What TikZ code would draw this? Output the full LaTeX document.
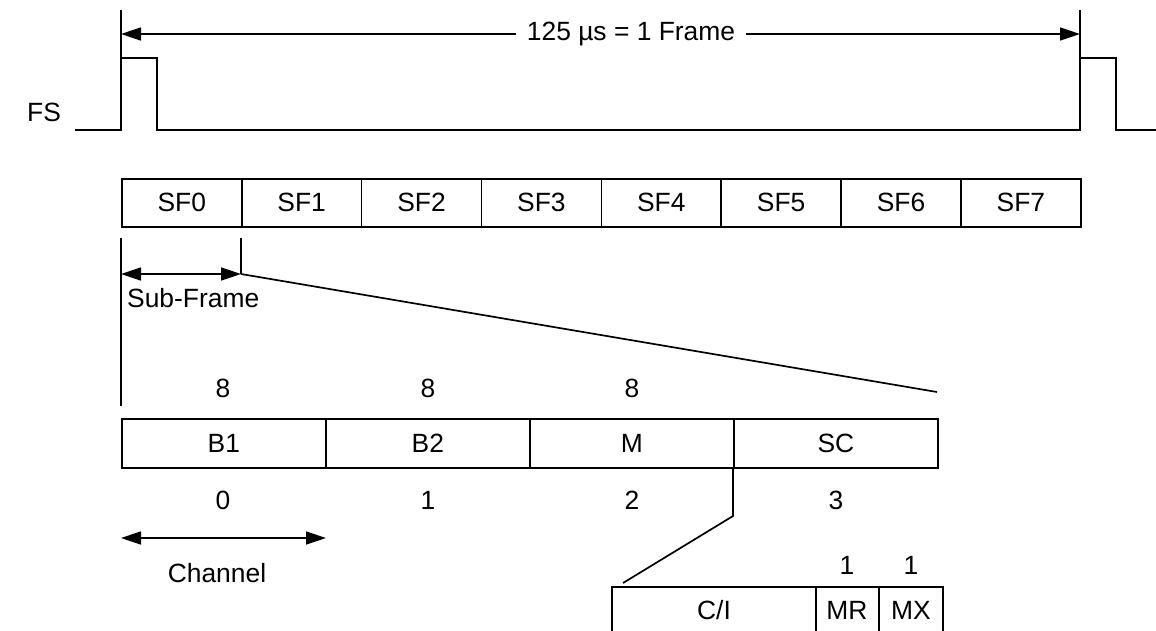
\documentclass[tikz,border=0pt]{standalone}
\usepackage{fontspec}
\setmainfont{Liberation Sans}
\usetikzlibrary{arrows.meta}
\begin{document}
\begin{tikzpicture}[x=1pt,y=-1pt,
  every node/.style={font=\fontsize{26.4}{31}\selectfont, inner sep=0pt},
  ln/.style={line width=1.7pt},
  sig/.style={line width=2.3pt},
  mk/.style={line width=1.5pt},
  fld/.style={draw, line width=1.7pt, minimum height=48pt, anchor=north west},
  tip/.style={-{Triangle[length=20pt,width=13pt]}},
  dtip/.style={{Triangle[length=20pt,width=13pt]}-{Triangle[length=20pt,width=13pt]}}]
\useasboundingbox (0,0) rectangle (1156,630);
% FS signal
\node (FS) at (44,112) {FS};
\coordinate (s0) at (75,130);
\coordinate (s1) at (121,130);
\coordinate (s2) at (121,58);
\coordinate (s3) at (157,58);
\coordinate (s4) at (157,130);
\coordinate (s5) at (1080,130);
\coordinate (s6) at (1080,58);
\coordinate (s7) at (1116,58);
\coordinate (s8) at (1116,130);
\coordinate (s9) at (1158,130);
\draw[sig] (s0) -- (s1) -- (s2) -- (s3) -- (s4) -- (s5) -- (s6) -- (s7) -- (s8) -- (s9);
% frame markers
\coordinate (mL) at (121,10);
\coordinate (mR) at (1080,10);
\draw[mk] (mL) -- (s1);
\draw[mk] (mR) -- (s5);
\coordinate (aL) at (121,34);
\coordinate (aR) at (1080,34);
\node[inner xsep=11pt] (frm) at (631,34) {125 \textmu s = 1 Frame};
\draw[ln,tip] (frm.west) -- (aL);
\draw[ln,tip] (frm.east) -- (aR);
% sub-frames
\foreach \i in {0,...,7}
  \node[fld, minimum width=119.875pt] (SF\i) at ({121+119.875*\i},178) {SF\i};
% sub-frame dimension
\coordinate (v1t) at (121,238);
\coordinate (v1b) at (121,406);
\coordinate (v2t) at (241,238);
\coordinate (sfL) at (121,274);
\coordinate (sfR) at (241,274);
\coordinate (zR) at (937,392);
\draw[mk] (v1t) -- (v1b);
\draw[mk] (v2t) -- (sfR);
\draw[ln,dtip] (sfL) -- (sfR);
\draw[ln] (sfR) -- (zR);
\node[anchor=west] (sub) at (127,298) {Sub-Frame};
% channels
\node[fld, minimum width=204pt, minimum height=49pt] (B1) at (121,418) {B1};
\node[fld, minimum width=204pt, minimum height=49pt] (B2) at (325,418) {B2};
\node[fld, minimum width=204pt, minimum height=49pt] (M) at (529,418) {M};
\node[fld, minimum width=204pt, minimum height=49pt] (SC) at (733,418) {SC};
\node (w1) at (223,388) {8};
\node (w2) at (428,388) {8};
\node (w3) at (632,388) {8};
\node (c0) at (223,500) {0};
\node (c1) at (428,500) {1};
\node (c2) at (632,500) {2};
\node (c3) at (836,500) {3};
\coordinate (chL) at (121,538);
\coordinate (chR) at (326,538);
\draw[ln,dtip] (chL) -- (chR);
\node (chan) at (217,573) {Channel};
% SC expansion
\coordinate (k1) at (733,516);
\coordinate (k2) at (623,583);
\draw[ln] (SC.south west) -- (k1) -- (k2);
\coordinate (ciBL) at (612,632);
\coordinate (ciTR) at (943,587);
\coordinate (ciBR) at (943,632);
\coordinate (d1t) at (816,587);
\coordinate (d1b) at (816,632);
\coordinate (d2t) at (879,587);
\coordinate (d2b) at (879,632);
\draw[ln] (ciBL) |- (ciTR) -- (ciBR);
\draw[ln] (d1t) -- (d1b);
\draw[ln] (d2t) -- (d2b);
\node (CI) at (714,610) {C/I};
\node (MR) at (847,610) {MR};
\node (MX) at (911,610) {MX};
\node (n1) at (847,565) {1};
\node (n2) at (911,565) {1};
\end{tikzpicture}
\end{document}
